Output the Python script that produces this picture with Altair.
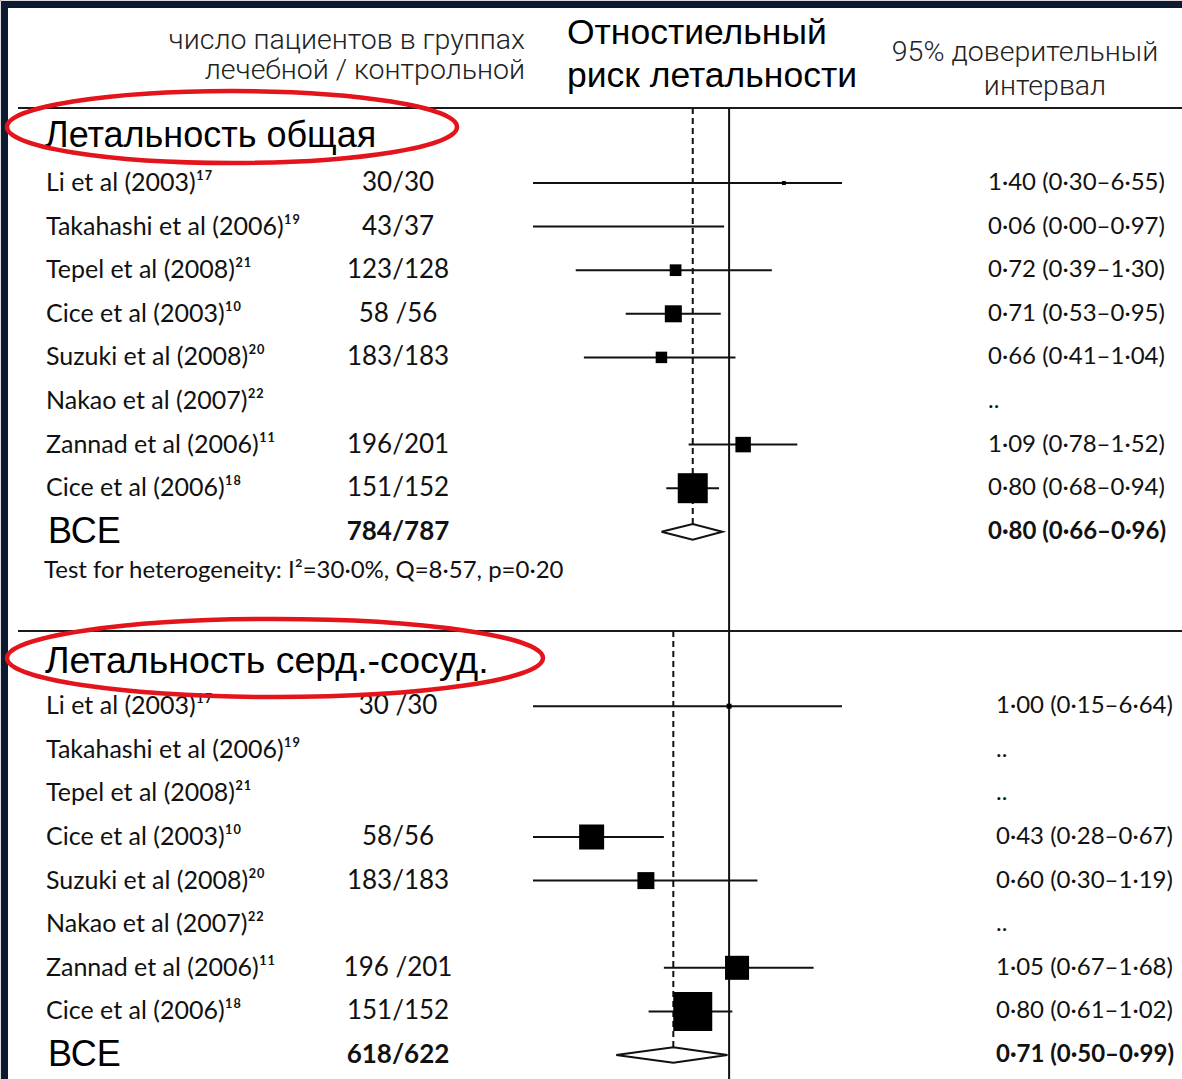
import altair as alt
import pandas as pd

# ---------------------------------------------------------------- data
studies = [
    "Li et al (2003)¹⁷",
    "Takahashi et al (2006)¹⁹",
    "Tepel et al (2008)²¹",
    "Cice et al (2003)¹⁰",
    "Suzuki et al (2008)²⁰",
    "Nakao et al (2007)²²",
    "Zannad et al (2006)¹¹",
    "Cice et al (2006)¹⁸",
]

# all-cause mortality
all_title = "Летальность общая"
all_n = ["30/30", "43/37", "123/128", "58 /56", "183/183", "", "196/201", "151/152"]
all_rr = [1.40, 0.06, 0.72, 0.71, 0.66, None, 1.09, 0.80]
all_lo = [0.30, 0.00, 0.39, 0.53, 0.41, None, 0.78, 0.68]
all_hi = [6.55, 0.97, 1.30, 0.95, 1.04, None, 1.52, 0.94]
all_weight = [0.9, 0.8, 8.0, 16.9, 7.7, None, 14.0, 52.5]
all_total_n = "784/787"
all_pooled = [0.80, 0.66, 0.96]
all_het = "Test for heterogeneity: I²=30·0%, Q=8·57, p=0·20"

# cardiovascular mortality
cv_title = "Летальность серд.-сосуд."
cv_n = ["30 /30", "", "", "58/56", "183/183", "", "196 /201", "151/152"]
cv_rr = [1.00, None, None, 0.43, 0.60, None, 1.05, 0.80]
cv_lo = [0.15, None, None, 0.28, 0.30, None, 0.67, 0.61]
cv_hi = [6.64, None, None, 0.67, 1.19, None, 1.68, 1.02]
cv_weight = [0.8, None, None, 20.6, 9.5, None, 19.0, 50.1]
cv_total_n = "618/622"
cv_pooled = [0.71, 0.50, 0.99]

total_label = "ВСЕ"
head_n = ["число пациентов в группах", "лечебной / контрольной"]
head_rr = ["Отностиельный", "риск летальности"]
head_ci = ["95% доверительный", "интервал"]

# ---------------------------------------------------------------- layout
W, H = 1182, 1079
ROW0, STEP = 183.0, 43.6            # pixel centre of the first study row, row pitch
X_MIN, X_MAX = 0.3, 2.0             # visible range of the risk-ratio axis
DIAMOND_HALF = 0.18                 # half height of pooled diamond, in rows

FONT_BODY = "Lato"
FONT_RU = "Liberation Sans"
FONT_THIN = "Roboto"
INK = "#111111"


def px_row(px):
    return (px - ROW0) / STEP


def fmt(v):
    return f"{v:.2f}".replace(".", "·")


def ci_text(rr, lo, hi):
    if rr is None:
        return ".."
    return f"{fmt(rr)} ({fmt(lo)}–{fmt(hi)})"


xscale = alt.Scale(type="log", domain=[X_MIN, X_MAX], range=[533, 842], clamp=True)
yscale = alt.Scale(domain=[px_row(0), px_row(H)], range=[0, H], zero=False, nice=False)


def X(field):
    return alt.X(field, type="quantitative", scale=xscale, axis=None)


def Y(field):
    return alt.Y(field, type="quantitative", scale=yscale, axis=None)


def panel_frame(n, rr, lo, hi, w, first_row):
    df = pd.DataFrame({
        "study": studies, "n": n, "rr": rr, "lo": lo, "hi": hi, "w": w,
    })
    df["row"] = [first_row + i for i in range(len(studies))]
    df["ci"] = [ci_text(a, b, c) for a, b, c in zip(rr, lo, hi)]
    df["lo_c"] = [None if v is None else min(max(v, X_MIN), X_MAX) for v in lo]
    df["hi_c"] = [None if v is None else min(max(v, X_MIN), X_MAX) for v in hi]
    return df


def panel_layers(df, pooled, total_n, first_row, title, title_px, title_size,
                 ci_x, hline_px, size_px):
    total_row = first_row + len(studies)
    est = df.dropna(subset=["rr"])
    pts = est[(est["rr"] >= X_MIN) & (est["rr"] <= X_MAX)]
    wmax = max(v for v in df["w"] if v is not None and v == v)

    dash = pd.DataFrame({"x": [pooled[0]], "y": [px_row(hline_px)],
                         "y2": [total_row - DIAMOND_HALF]})
    dashed = alt.Chart(dash).mark_rule(color=INK, strokeWidth=2, strokeDash=[6, 4]).encode(
        x=X("x"), y=Y("y"), y2="y2")

    ci = alt.Chart(est).mark_rule(color=INK, strokeWidth=2).encode(
        x=X("lo_c"), x2="hi_c", y=Y("row"))

    squares = alt.Chart(pts).mark_square(color="black", opacity=1).encode(
        x=X("rr"), y=Y("row"),
        size=alt.Size("w:Q", scale=alt.Scale(domain=[0, wmax], range=[0, size_px]), legend=None))

    # pooled estimate diamond: lower limit -> estimate (top) -> upper limit -> estimate (bottom)
    est_, lo_, hi_ = pooled
    dia = pd.DataFrame({
        "x": [lo_, est_, hi_, est_, lo_],
        "y": [total_row, total_row - DIAMOND_HALF, total_row,
              total_row + DIAMOND_HALF, total_row],
        "order": [0, 1, 2, 3, 4],
    })
    diamond = alt.Chart(dia).mark_line(color=INK, strokeWidth=2).encode(
        x=X("x"), y=Y("y"), order="order:Q")

    names = alt.Chart(df).mark_text(align="left", baseline="middle", font=FONT_BODY,
                                    fontSize=25, color=INK).encode(
        x=alt.value(46), y=Y("row"), text="study")
    counts = alt.Chart(df).mark_text(align="center", baseline="middle", font=FONT_BODY,
                                     fontSize=26, color=INK).encode(
        x=alt.value(398), y=Y("row"), text="n")
    cis = alt.Chart(df).mark_text(align="left", baseline="middle", font=FONT_BODY,
                                  fontSize=24, color=INK).encode(
        x=alt.value(ci_x), y=Y("row"), text="ci")

    tot = pd.DataFrame({"row": [total_row], "label": [total_label], "n": [total_n],
                        "ci": [ci_text(*pooled)]})
    tot_label = alt.Chart(tot).mark_text(align="left", baseline="middle", font=FONT_RU,
                                         fontSize=36, color="black").encode(
        x=alt.value(48), y=Y("row"), text="label")
    tot_n = alt.Chart(tot).mark_text(align="center", baseline="middle", font=FONT_BODY,
                                     fontSize=26, fontWeight="bold", color=INK).encode(
        x=alt.value(398), y=Y("row"), text="n")
    tot_ci = alt.Chart(tot).mark_text(align="left", baseline="middle", font=FONT_BODY,
                                      fontSize=24, fontWeight="bold", color=INK).encode(
        x=alt.value(ci_x), y=Y("row"), text="ci")

    head = pd.DataFrame({"row": [px_row(title_px)], "t": [title]})
    heading = alt.Chart(head).mark_text(align="left", baseline="middle", font=FONT_RU,
                                        fontSize=title_size, color="black").encode(
        x=alt.value(45), y=Y("row"), text="t")

    return [dashed, ci, diamond, squares, names, counts, cis,
            tot_label, tot_n, tot_ci, heading]


one = pd.DataFrame({"k": [0]})

frame = alt.Chart(one).mark_rect(color="white").encode(
    x=alt.value(8), x2=alt.value(W), y=alt.value(8), y2=alt.value(H))

hlines = alt.Chart(pd.DataFrame({"y": [108, 631]})).mark_rule(color="#1a1a1a", strokeWidth=2).encode(
    x=alt.value(18), x2=alt.value(W), y=alt.Y("y:Q", scale=None))

null_line = alt.Chart(pd.DataFrame({"x": [1.0]})).mark_rule(color=INK, strokeWidth=2).encode(
    x=X("x"), y=alt.value(108), y2=alt.value(H))

df_all = panel_frame(all_n, all_rr, all_lo, all_hi, all_weight, 0)
df_cv = panel_frame(cv_n, cv_rr, cv_lo, cv_hi, cv_weight, 12)

layers_all = panel_layers(df_all, all_pooled, all_total_n, 0, all_title, 136, 36, 988, 108, 900)
layers_cv = panel_layers(df_cv, cv_pooled, cv_total_n, 12, cv_title, 662, 37.5, 996, 631, 1521)

het = alt.Chart(pd.DataFrame({"row": [px_row(571)], "t": [all_het]})).mark_text(
    align="left", baseline="middle", font=FONT_BODY, fontSize=24, color=INK).encode(
    x=alt.value(44), y=Y("row"), text="t")

# column headings
hdr_n = alt.Chart(pd.DataFrame({"t": head_n, "y": [40, 70]})).mark_text(
    align="right", baseline="middle", font=FONT_THIN, fontWeight=300, fontSize=28.5,
    color="#222").encode(
    x=alt.value(525), y=alt.Y("y:Q", scale=None), text="t")

hdr_rr = alt.Chart(pd.DataFrame({"t": head_rr, "y": [33, 76]})).mark_text(
    align="left", baseline="middle", font=FONT_RU, fontSize=35.5, color="black").encode(
    x=alt.value(567), y=alt.Y("y:Q", scale=None), text="t")

hdr_ci1 = alt.Chart(pd.DataFrame({"t": head_ci[:1], "y": [52]})).mark_text(
    align="center", baseline="middle", font=FONT_THIN, fontWeight=300, fontSize=28.5,
    color="#222").encode(
    x=alt.value(1025), y=alt.Y("y:Q", scale=None), text="t")
hdr_ci2 = alt.Chart(pd.DataFrame({"t": head_ci[1:], "y": [86]})).mark_text(
    align="center", baseline="middle", font=FONT_THIN, fontWeight=300, fontSize=28.5,
    color="#222").encode(
    x=alt.value(1045), y=alt.Y("y:Q", scale=None), text="t")


# red highlight rings round the two section titles
def ring(ratio):
    k = 0.5523
    r = ratio
    return (f"M-1,0 C-1,{-k*r:.4f} {-k:.4f},{-r:.4f} 0,{-r:.4f} "
            f"C{k:.4f},{-r:.4f} 1,{-k*r:.4f} 1,0 "
            f"C1,{k*r:.4f} {k:.4f},{r:.4f} 0,{r:.4f} "
            f"C{-k:.4f},{r:.4f} -1,{k*r:.4f} -1,0 Z")


ring1 = alt.Chart(one).mark_point(shape=ring(36 / 225), filled=False, stroke="#e3141b",
                                  strokeWidth=4.5, opacity=1).encode(
    x=alt.value(232), y=alt.value(127), size=alt.value(450 ** 2))
ring2 = alt.Chart(one).mark_point(shape=ring(39 / 268), filled=False, stroke="#e3141b",
                                  strokeWidth=4.5, opacity=1).encode(
    x=alt.value(275), y=alt.value(658), size=alt.value(536 ** 2))

chart = alt.layer(
    frame, hlines, null_line, *layers_all, *layers_cv, het,
    hdr_n, hdr_rr, hdr_ci1, hdr_ci2, ring1, ring2
).resolve_scale(size="independent").properties(
    width=W, height=H, padding=0, autosize="none"
).configure_view(stroke=None).configure(background="#0e1a2f")

chart.save("out.html", embed_options={"renderer": "svg", "actions": False})
